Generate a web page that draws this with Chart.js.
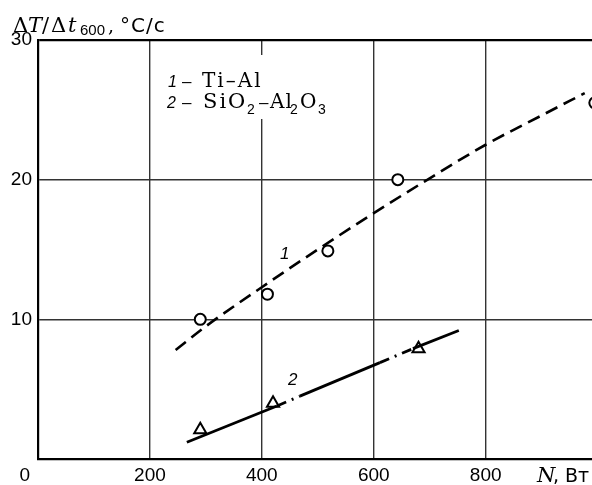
<!DOCTYPE html>
<html>
<head>
<meta charset="utf-8">
<script src="https://cdn.jsdelivr.net/npm/chart.js@4.4.0/dist/chart.umd.min.js"></script>
<style>
  html, body { margin: 0; padding: 0; background: #fff; }
  #wrap { width: 592px; height: 485px; position: relative; }
</style>
</head>
<body>
<div id="wrap"><canvas id="chart"></canvas></div>
<script>
// tick values
const xTicks = [0, 200, 400, 600, 800];
const yTicks = [0, 10, 20, 30];

// 1 - Ti-Al : measured points and fitted curve
const tiAlX = [290, 410, 518, 643, 995];
const tiAlY = [10.0, 11.8, 14.9, 20.0, 25.5];
const tiAlCurveX = [246, 300, 400, 500, 600, 700, 800, 900, 977];
const tiAlCurveY = [7.8, 9.5, 12.3, 15.0, 17.6, 20.1, 22.5, 24.6, 26.2];

// 2 - SiO2-Al2O3 : measured points and fitted line
const siAlX = [290, 420, 680];
const siAlY = [2.1, 4.0, 7.9];
const siAlCurveX = [266, 427, 468, 611, 670, 752];
const siAlCurveY = [1.2, 3.8, 4.5, 6.9, 7.9, 9.2];

const zip = (xs, ys) => xs.map((x, i) => ({ x: x, y: ys[i] }));

const serif = '"DejaVu Serif", serif';
const sans = '"Liberation Sans", Arial, sans-serif';
const wideSans = '"DejaVu Sans", sans-serif';

// each piece of text: string, x, y, font, letter spacing
function put(ctx, t, x, y, font, sp) {
  ctx.font = font;
  ctx.letterSpacing = (sp || 0) + 'px';
  ctx.fillText(t, x, y);
}

const annotations = {
  id: 'annotations',
  afterDatasetsDraw(chart) {
    const ctx = chart.ctx;
    ctx.save();
    ctx.textBaseline = 'alphabetic';
    ctx.textAlign = 'left';

    // legend box covers the grid
    ctx.fillStyle = '#fff';
    ctx.fillRect(156, 55, 192, 64);
    ctx.fillStyle = '#000';

    const lf = '20px ' + serif;
    const sub = '14px ' + sans;
    put(ctx, '1', 168, 87, 'italic 16px ' + sans);
    put(ctx, '–', 182, 87, '17px ' + sans);
    put(ctx, 'Ti–Al', 202, 87, lf, 2);

    put(ctx, '2', 167, 108, 'italic 16px ' + sans);
    put(ctx, '–', 182, 108, '17px ' + sans);
    put(ctx, 'SiO', 203, 108, '21px ' + serif, 2);
    put(ctx, '2', 247, 114, sub);
    put(ctx, '–', 259, 108, '17px ' + sans);
    put(ctx, 'Al', 270, 108, lf, 1);
    put(ctx, '2', 290, 114, sub);
    put(ctx, 'O', 300, 108, lf);
    put(ctx, '3', 318, 114, sub);

    // curve numbers
    put(ctx, '1', 280, 259, 'italic 17px ' + sans);
    put(ctx, '2', 288, 385, 'italic 17px ' + sans);

    // y-axis title
    put(ctx, 'Δ', 13, 32, '21px ' + serif);
    put(ctx, 'T', 28, 32, 'italic 21px ' + serif);
    put(ctx, '/', 42, 32, '21px ' + serif);
    put(ctx, 'Δ', 51, 32, '21px ' + serif);
    put(ctx, 't', 68, 32, 'italic 21px ' + serif);
    put(ctx, '600', 80, 35, '15px ' + sans);
    put(ctx, ',', 108, 32, '19px ' + serif);
    put(ctx, '°C/c', 120, 32, '20px ' + wideSans, 1);

    // x-axis title
    put(ctx, 'N', 537, 482, 'italic 21px ' + serif);
    put(ctx, ', Вт', 553, 482, '19px ' + wideSans);
    ctx.restore();
  }
};

new Chart(document.getElementById('chart'), {
  type: 'scatter',
  data: {
    datasets: [
      {
        data: zip(tiAlCurveX, tiAlCurveY),
        showLine: true,
        borderColor: '#000',
        borderWidth: 2.6,
        borderDash: [13, 7],
        pointRadius: 0,
        cubicInterpolationMode: 'monotone'
      },
      {
        data: zip(tiAlX, tiAlY),
        showLine: false,
        pointStyle: 'circle',
        pointRadius: 5.5,
        pointBorderWidth: 2,
        pointBorderColor: '#000',
        pointBackgroundColor: '#fff'
      },
      {
        data: zip(siAlCurveX, siAlCurveY),
        showLine: true,
        borderColor: '#000',
        borderWidth: 2.8,
        pointRadius: 0,
        segment: {
          borderDash: c => (c.p0DataIndex === 1 || c.p0DataIndex === 3) ? [10, 6, 2, 6] : undefined
        }
      },
      {
        data: zip(siAlX, siAlY),
        showLine: false,
        pointStyle: 'triangle',
        pointRadius: 7,
        pointBorderWidth: 2,
        pointBorderColor: '#000',
        pointBackgroundColor: '#fff'
      }
    ]
  },
  options: {
    responsive: true,
    maintainAspectRatio: false,
    animation: false,
    clip: false,
    layout: { autoPadding: false, padding: { top: 40, right: 0, left: 0, bottom: 0 } },
    plugins: { legend: { display: false }, tooltip: { enabled: false } },
    scales: {
      x: {
        type: 'linear',
        min: 0,
        max: 990,
        afterBuildTicks: s => { s.ticks = xTicks.map(v => ({ value: v })); },
        afterFit: s => { s.height = 26; s.paddingLeft = 0; s.paddingRight = 0; },
        ticks: {
          color: '#000',
          font: { family: sans, size: 19 },
          padding: 5,
          maxRotation: 0,
          callback: v => v === 0 ? '0     ' : String(v)
        },
        grid: { color: '#333', lineWidth: 1.4, drawTicks: false },
        border: { color: '#000', width: 2.2 }
      },
      y: {
        min: 0,
        max: 30,
        afterBuildTicks: s => { s.ticks = yTicks.map(v => ({ value: v })); },
        afterFit: s => { s.width = 38; s.paddingTop = 0; s.paddingBottom = 0; },
        ticks: {
          color: '#000',
          font: { family: sans, size: 19 },
          padding: 6,
          callback: v => v === 0 ? '' : String(v)
        },
        grid: {
          color: c => c.tick && c.tick.value === 30 ? '#000' : '#333',
          lineWidth: c => c.tick && c.tick.value === 30 ? 2.2 : 1.4,
          drawTicks: false
        },
        border: { color: '#000', width: 2.2 }
      }
    }
  },
  plugins: [annotations]
});
</script>
</body>
</html>
